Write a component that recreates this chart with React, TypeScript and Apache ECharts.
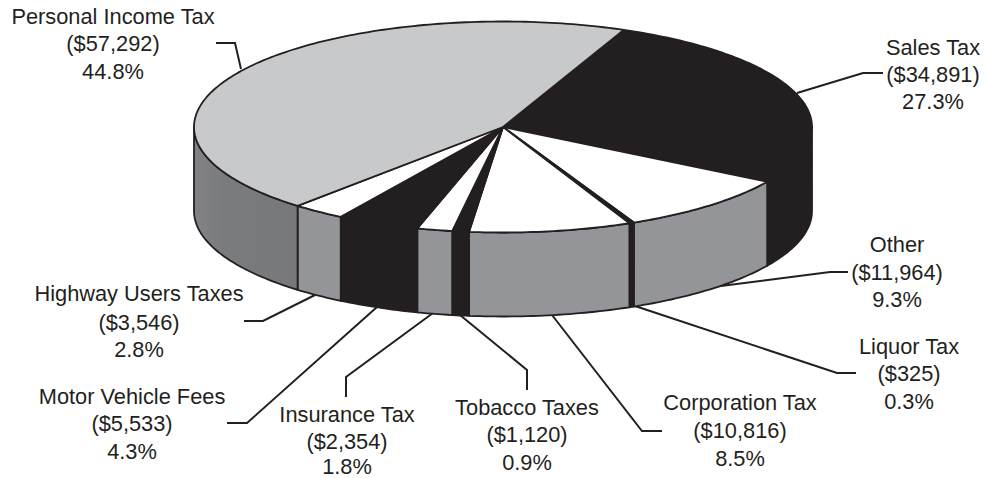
import React, { useEffect, useRef } from "react";
import * as echarts from "echarts";

const categories = ["Sales Tax", "Other", "Liquor Tax", "Corporation Tax", "Tobacco Taxes", "Insurance Tax", "Motor Vehicle Fees", "Highway Users Taxes", "Personal Income Tax"];
const values = [34891, 11964, 325, 10816, 1120, 2354, 5533, 3546, 57292];
const percents = ["27.3%", "9.3%", "0.3%", "8.5%", "0.9%", "1.8%", "4.3%", "2.8%", "44.8%"];

const topColors = ["#231f20", "#ffffff", "#231f20", "#ffffff", "#231f20", "#ffffff", "#231f20", "#ffffff", "#c8c9cb"];
const sideColors = ["#231f20", "#939598", "#231f20", "#939598", "#231f20", "#939598", "#231f20", "#939598", "#7a7b7e"];

const labelX = [933, 897, 909, 740, 527, 347, 132, 139, 113];
const labelY = [
  [47, 74, 101],
  [244, 272, 299],
  [346, 373, 401],
  [402, 430, 458],
  [407, 434, 462],
  [414, 441, 466.9],
  [396, 423, 451],
  [293, 322, 349],
  [16, 43, 71],
];
const leaders = [
  [[883, 73], [863, 73], [797, 93]],
  [[848, 272], [830, 272], [713, 287]],
  [[856, 373], [837, 373], [635, 306]],
  [[662, 431], [642, 431], [552, 315]],
  [[527, 390], [527, 370], [460, 315]],
  [[346, 397], [346, 377], [433, 313]],
  [[227, 423], [247, 423], [377, 307]],
  [[244, 321], [263, 321], [315, 295]],
  [[216, 43], [235, 43], [241, 69]],
];

const CX = 503;
const CY = 127;
const RX = 309;
const RY = 105.5;
const DEPTH = 84;
const START_DEG = 23;
const DARK = "#231f20";
const total = values.reduce((a, b) => a + b, 0);

function sliceRange(i: number): [number, number] {
  let sum = 0;
  for (let k = 0; k < i; k++) sum += values[k];
  const a = START_DEG + (sum / total) * 360;
  return [a, a + (values[i] / total) * 360];
}
function pt(deg: number, dy = 0): number[] {
  const r = (deg * Math.PI) / 180;
  return [CX + RX * Math.sin(r), CY - RY * Math.cos(r) + dy];
}
function arcPts(a: number, b: number, dy = 0): number[][] {
  const out: number[][] = [];
  const n = Math.max(2, Math.ceil(Math.abs(b - a) / 1));
  for (let k = 0; k <= n; k++) out.push(pt(a + ((b - a) * k) / n, dy));
  return out;
}

const renderTop = (params: any) => {
  const [a, b] = sliceRange(params.dataIndex);
  return {
    type: "polygon",
    shape: { points: [[CX, CY], ...arcPts(a, b)] },
    style: { fill: topColors[params.dataIndex], stroke: DARK, lineWidth: 1.8, lineJoin: "round" },
  };
};

const renderSide = (params: any) => {
  const i = params.dataIndex;
  const [a0, b0] = sliceRange(i);
  const a = Math.max(a0, 90);
  const b = Math.min(b0, 270);
  if (b <= a) return { type: "group", children: [] };
  const fill: any = i === values.length - 1
    ? new echarts.graphic.LinearGradient(0, 0, 1, 0, [
        { offset: 0, color: "#808285" },
        { offset: 0.3, color: "#7a7b7e" },
        { offset: 1, color: "#77787b" },
      ])
    : sideColors[i];
  return {
    type: "polygon",
    shape: { points: [...arcPts(a, b), ...arcPts(b, a, DEPTH)] },
    style: { fill, stroke: DARK, lineWidth: 1.8, lineJoin: "round" },
  };
};

const renderLabel = (params: any) => {
  const i = params.dataIndex;
  const lines = [categories[i], `($${values[i].toLocaleString("en-US")})`, percents[i]];
  return {
    type: "group",
    children: [
      {
        type: "polyline",
        shape: { points: leaders[i] },
        style: { fill: "none", stroke: DARK, lineWidth: 2 },
      },
      ...lines.map((t, k) => ({
        type: "text",
        x: labelX[i],
        y: labelY[i][k],
        style: {
          text: t,
          fill: DARK,
          font: '21.8px "Liberation Sans", Arial, sans-serif',
          align: "center",
          verticalAlign: "middle",
        },
      })),
    ],
  };
};

export default function App() {
  const ref = useRef<HTMLDivElement>(null);
  useEffect(() => {
    const chart = echarts.init(ref.current!, undefined, { renderer: "svg" });
    const data = values.map((v) => [v]);
    chart.setOption({
      animation: false,
      backgroundColor: "#ffffff",
      series: [
        { type: "custom", coordinateSystem: "none", z: 1, data, renderItem: renderLabel, silent: true },
        { type: "custom", coordinateSystem: "none", z: 2, data, renderItem: renderSide, silent: true },
        { type: "custom", coordinateSystem: "none", z: 3, data, renderItem: renderTop, silent: true },
      ],
    });
    return () => chart.dispose();
  }, []);
  return <div ref={ref} style={{ position: "absolute", left: 0, top: 0, width: 985, height: 478 }} />;
}
